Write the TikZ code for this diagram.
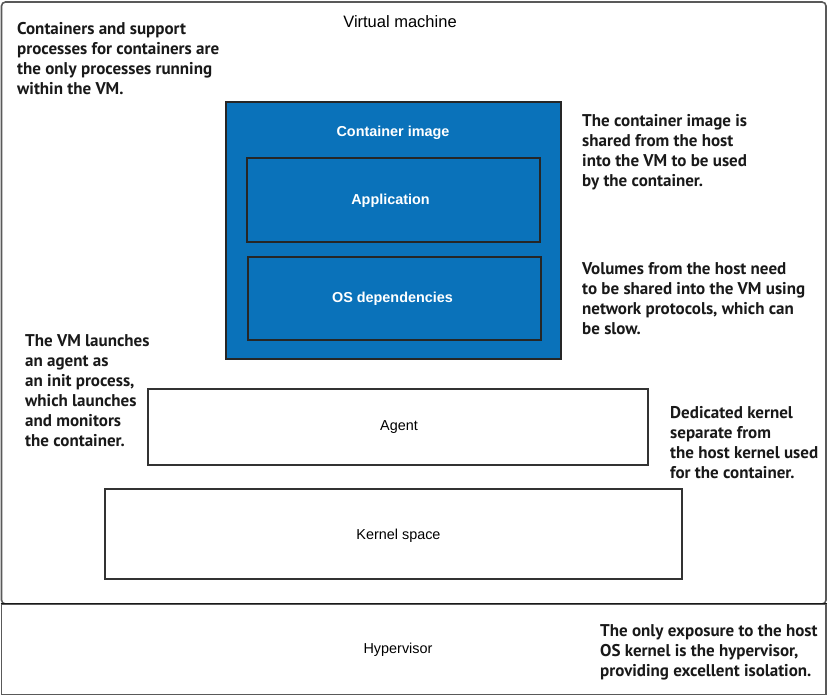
\documentclass[tikz,border=0pt]{standalone}
\usepackage{fontspec}
\setmainfont{Liberation Sans}
\newfontfamily\notefont{PT Sans}
\begin{document}
\begin{tikzpicture}[x=1pt,y=-1pt,
  box/.style={draw=black!80, line width=1.1pt, rectangle, inner sep=0pt},
  bluebox/.style={box, fill=vmblue, draw=black!85},
  lbl/.style={font=\fontsize{14.4}{16}\selectfont, inner sep=0pt},
  wlbl/.style={font=\fontsize{14.4}{16}\selectfont\bfseries, text=white, inner sep=0pt},
  note/.style={font=\notefont\bfseries\fontsize{17}{20}\selectfont, align=left, anchor=north west, inner sep=0pt, text=black!90}]
\definecolor{vmblue}{HTML}{0A72BA}
\useasboundingbox (0,0) rectangle (827,696);
\fill[white] (0,0) rectangle (827,696);
% outer boxes
\node[box, draw=black!65, line width=1.6pt, rounded corners=4pt, minimum width=824.5pt, minimum height=602pt] (vm) at (413.75,303) {};
\node[box, draw=black!65, line width=1.6pt, minimum width=824.5pt, minimum height=90.5pt] (hyp) at (413.75,649.25) {};
\draw[black!90, line width=1.4pt] (hyp.north west) -- (hyp.north east);
\node[lbl, font=\fontsize{16.5}{18}\selectfont] (vmt) at (400,22) {Virtual machine};
\node[lbl] (hypt) at (398,649.5) {Hypervisor};
% container image
\node[bluebox, minimum width=335pt, minimum height=257pt] (ci) at (393.5,230.5) {};
\node[wlbl] (cit) at (393,132.5) {Container image};
\node[bluebox, minimum width=293pt, minimum height=84pt] (app) at (393.5,200) {};
\node[wlbl] at (390.5,201) {Application};
\node[bluebox, minimum width=293pt, minimum height=83pt] (os) at (394.5,298.5) {};
\node[wlbl] at (392.5,299) {OS dependencies};
% agent and kernel
\node[box, minimum width=500pt, minimum height=76pt] (agent) at (398,427) {};
\node[lbl] at (399,427.5) {Agent};
\node[box, minimum width=577pt, minimum height=90pt] (kern) at (393.5,534) {};
\node[lbl] at (398.5,535.5) {Kernel space};
% notes
\node[note] (n1) at (17,22) {Containers and support\\processes for containers are\\the only processes running\\within the VM.};
\node[note] (n2) at (582,114) {The container image is\\shared from the host\\into the VM to be used\\by the container.};
\node[note] (n3) at (582,262) {Volumes from the host need\\to be shared into the VM using\\network protocols, which can\\be slow.};
\node[note] (n4) at (25,334) {The VM launches\\an agent as\\an init process,\\which launches\\and monitors\\the container.};
\node[note] (n5) at (670,406) {Dedicated kernel\\separate from\\the host kernel used\\for the container.};
\node[note] (n6) at (600,624) {The only exposure to the host\\OS kernel is the hypervisor,\\providing excellent isolation.};
\end{tikzpicture}
\end{document}
